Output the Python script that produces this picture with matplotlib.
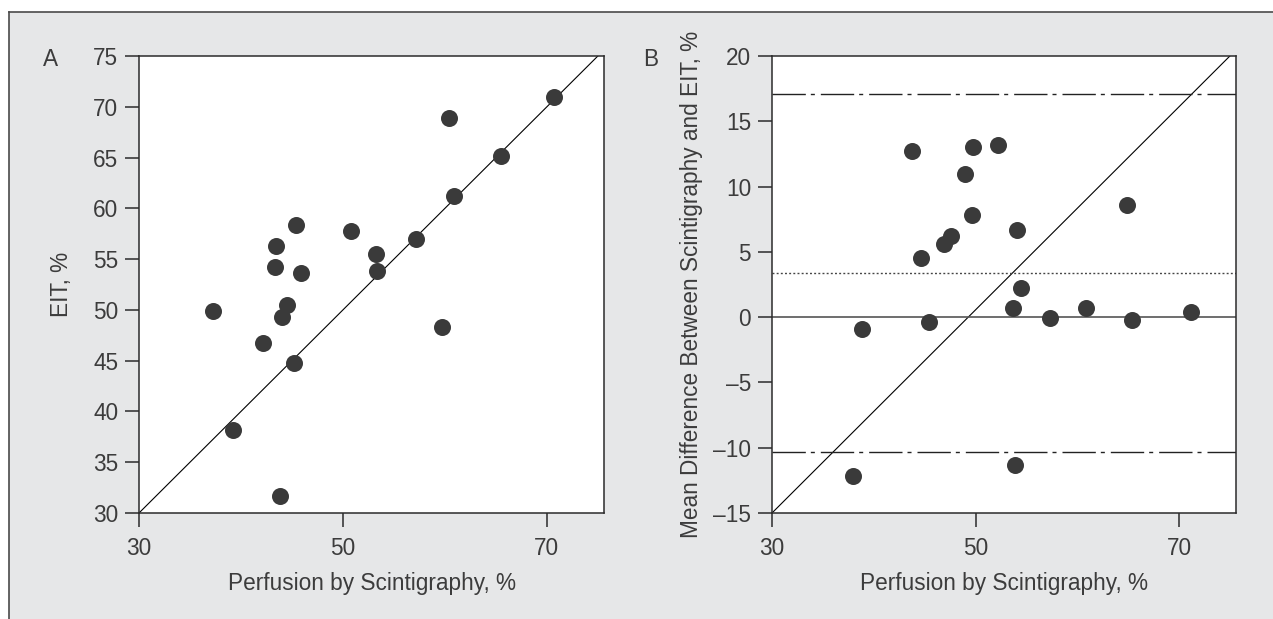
import matplotlib
matplotlib.use("Agg")
import matplotlib.pyplot as plt

# ---- data ----
a_scint = [37.3, 39.2, 42.2, 43.3, 43.4, 43.8, 44.0, 44.5, 45.2, 45.4, 45.9,
           50.8, 53.2, 53.3, 57.2, 59.7, 60.4, 60.9, 65.5, 70.7]
a_eit = [49.9, 38.2, 46.7, 54.2, 56.3, 31.7, 49.3, 50.5, 44.8, 58.4, 53.6,
         57.8, 55.5, 53.8, 57.0, 48.3, 68.9, 61.2, 65.2, 71.0]

b_scint = [38.0, 38.8, 43.8, 44.6, 45.4, 46.9, 47.6, 49.0, 49.7, 49.8, 52.2,
           53.7, 53.9, 54.1, 54.5, 57.3, 60.9, 64.9, 65.4, 71.2]
b_diff = [-12.2, -0.9, 12.7, 4.55, -0.35, 5.6, 6.25, 11.0, 7.8, 13.0, 13.15,
          0.7, -11.35, 6.7, 2.2, -0.1, 0.7, 8.6, -0.2, 0.4]

mean_diff = 3.4
upper_loa = 17.1
lower_loa = -10.35

a_line_x = [30, 75]
a_line_y = [30, 75]
b_line_x = [30, 75]
b_line_y = [-15, 20]

a_xticks = [30, 50, 70]
a_yticks = [30, 35, 40, 45, 50, 55, 60, 65, 70, 75]
b_xticks = [30, 50, 70]
b_yticks = [-15, -10, -5, 0, 5, 10, 15, 20]

xlabel = "Perfusion by Scintigraphy, %"
a_ylabel = "EIT, %"
b_ylabel = "Mean Difference Between Scintigraphy and EIT, %"

# ---- style ----
plt.rcParams['font.family'] = ['Liberation Sans', 'DejaVu Sans']
plt.rcParams['lines.scale_dashes'] = False
txt = '#3c3c3c'
dark = '#2b2b2b'
dot = '#3a3a3a'
bg = '#e6e7e8'
fs = 16.3

fig = plt.figure(figsize=(12.73, 6.19), dpi=100)
fig.patch.set_facecolor('white')
# gray panel with frame on top and left
bgrect = plt.Rectangle((9 / 1273, 0), 1, 1 - 12 / 619,
                       transform=fig.transFigure, facecolor=bg,
                       edgecolor='none', zorder=-10)
fig.add_artist(bgrect)
fig.add_artist(plt.Line2D([9 / 1273, 1], [1 - 12 / 619, 1 - 12 / 619],
                          transform=fig.transFigure, color='#4a4a4a', lw=1.2,
                          zorder=-5))
fig.add_artist(plt.Line2D([9 / 1273, 9 / 1273], [0, 1 - 12 / 619],
                          transform=fig.transFigure, color='#4a4a4a', lw=1.2,
                          zorder=-5))

axA = fig.add_axes([139 / 1273, 1 - 513 / 619, 465 / 1273, 457 / 619])
axB = fig.add_axes([772 / 1273, 1 - 513 / 619, 464 / 1273, 457 / 619])


def style(ax):
    ax.set_facecolor('white')
    for s in ax.spines.values():
        s.set_color(dark)
        s.set_linewidth(1.1)
    ax.tick_params(direction='out', length=10, width=1.1, color=dark,
                   labelsize=fs, labelcolor=txt, pad=5)
    ax.tick_params(axis='x', pad=7)


# Panel A
style(axA)
axA.plot(a_line_x, a_line_y, color='black', lw=0.8, zorder=2)
axA.scatter(a_scint, a_eit, s=150, color=dot, zorder=3, linewidths=0)
axA.set_xlim(30, 75.6)
axA.set_ylim(30, 75)
axA.set_xticks(a_xticks)
axA.set_yticks(a_yticks)
axA.set_xlabel(xlabel, fontsize=fs, color=txt, labelpad=9)
axA.set_ylabel(a_ylabel, fontsize=fs, color=txt, labelpad=14)
fig.text(51 / 1273, 1 - 60 / 619, "A", fontsize=fs, color=txt,
         ha='center', va='center')

# Panel B
style(axB)
axB.plot(b_line_x, b_line_y, color='black', lw=0.8, zorder=2)
axB.axhline(0, color='#555555', lw=1.2, zorder=2)
axB.axhline(mean_diff, color='#444444', lw=1.0, linestyle=(0, (1.4, 1.6)), zorder=2)
axB.axhline(upper_loa, color='#222222', lw=1.0,
            linestyle=(0, (24, 3.6, 2.9, 4.3)), zorder=2)
axB.axhline(lower_loa, color='#222222', lw=1.0,
            linestyle=(0, (24, 3.6, 2.9, 4.3)), zorder=2)
axB.scatter(b_scint, b_diff, s=150, color=dot, zorder=3, linewidths=0)
axB.set_xlim(30, 75.6)
axB.set_ylim(-15, 20)
axB.set_xticks(b_xticks)
axB.set_yticks(b_yticks)
axB.set_yticklabels([str(v).replace('-', '\u2013') for v in b_yticks])
axB.set_xlabel(xlabel, fontsize=fs, color=txt, labelpad=9)
axB.set_ylabel(b_ylabel, fontsize=fs, color=txt, labelpad=7)
fig.text(651 / 1273, 1 - 60 / 619, "B", fontsize=fs, color=txt,
         ha='center', va='center')

fig.savefig("out.png", dpi=100, facecolor=fig.get_facecolor())
